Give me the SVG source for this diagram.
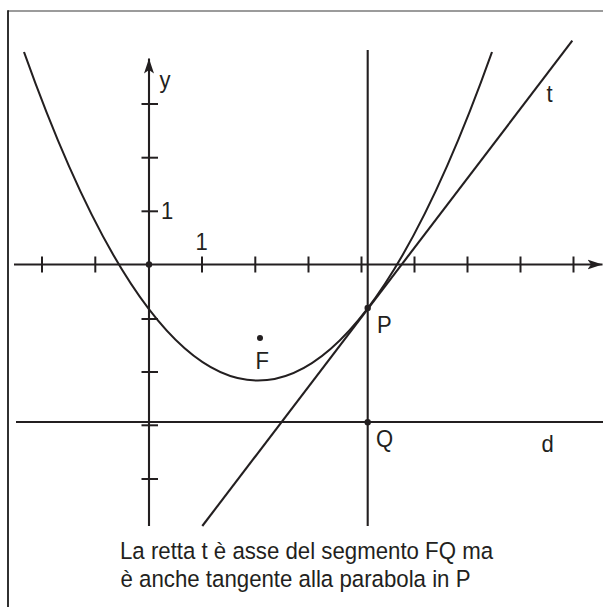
<svg xmlns="http://www.w3.org/2000/svg" width="603" height="607" viewBox="0 0 603 607">
<style>
.ln{stroke:#231f20;stroke-width:2.1;fill:none;stroke-linecap:butt}
.tk{stroke:#231f20;stroke-width:2}
.tx{font-family:"Liberation Sans",Arial,sans-serif;font-size:24.5px;fill:#231f20}
.big{font-family:"Liberation Sans",Arial,sans-serif;font-size:24.5px;fill:#231f20}
.dot{fill:#231f20}
</style>
<defs>
<marker id="arr" markerWidth="16" markerHeight="12" refX="15" refY="5.5" orient="auto" markerUnits="userSpaceOnUse">
<path d="M15,5.5 L0,0.5 L3.5,5.5 L0,10.5 Z" fill="#231f20"/>
</marker>
</defs>
<rect width="603" height="607" fill="#fff"/>
<g id="frame">
<line x1="8" y1="11" x2="603" y2="11" stroke="#7a7a7a" stroke-width="1.6"/>
<line x1="8" y1="10.2" x2="8" y2="607" stroke="#1a1a1a" stroke-width="1.8"/>
</g>
<g id="connectors">
<line id="x-axis" class="ln" x1="14" y1="264.5" x2="602.5" y2="264.5" marker-end="url(#arr)"/>
<line id="y-axis" class="ln" x1="149" y1="526" x2="149" y2="58.5" marker-end="url(#arr)"/>
<g id="x-ticks" class="tk">
<line x1="42" y1="256.5" x2="42" y2="272.5"/>
<line x1="95.3" y1="256.5" x2="95.3" y2="272.5"/>
<line x1="202" y1="256.5" x2="202" y2="272.5"/>
<line x1="255.3" y1="256.5" x2="255.3" y2="272.5"/>
<line x1="308.5" y1="256.5" x2="308.5" y2="272.5"/>
<line x1="361.5" y1="256.5" x2="361.5" y2="272.5"/>
<line x1="414.5" y1="256.5" x2="414.5" y2="272.5"/>
<line x1="467.5" y1="256.5" x2="467.5" y2="272.5"/>
<line x1="520.5" y1="256.5" x2="520.5" y2="272.5"/>
<line x1="573.5" y1="256.5" x2="573.5" y2="272.5"/>
</g>
<g id="y-ticks" class="tk">
<line x1="141.5" y1="104" x2="158" y2="104"/>
<line x1="141.5" y1="157.7" x2="158" y2="157.7"/>
<line x1="141.5" y1="211.3" x2="158" y2="211.3"/>
<line x1="141.5" y1="319" x2="158" y2="319"/>
<line x1="141.5" y1="372" x2="158" y2="372"/>
<line x1="141.5" y1="425.3" x2="158" y2="425.3"/>
<line x1="141.5" y1="479" x2="158" y2="479"/>
</g>
<line id="directrix" class="ln" x1="16" y1="422" x2="603" y2="422"/>
<line id="vertical" class="ln" x1="367.7" y1="50" x2="367.7" y2="526"/>
<line id="tangent" class="ln" x1="202.3" y1="526" x2="572.3" y2="40.7"/>
<path id="parabola" class="ln" d="M24,52 Q258,709.1 492,52"/>
</g>
<g id="origin"><circle class="dot" cx="149" cy="264.5" r="3.2"/></g>
<g id="point-P"><circle class="dot" cx="367.7" cy="308" r="3.2"/><text class="tx" transform="translate(377,332.7) scale(0.9,1)">P</text></g>
<g id="point-Q"><circle class="dot" cx="367.7" cy="422.3" r="3.2"/><text class="tx" transform="translate(376,447) scale(0.9,1)">Q</text></g>
<g id="point-F"><circle class="dot" cx="260" cy="338" r="3"/><text class="tx" transform="translate(255.5,369) scale(0.9,1)">F</text></g>
<g id="labels">
<text class="tx" transform="translate(159.5,87.5) scale(0.9,1)">y</text>
<text class="tx" transform="translate(161,218.5) scale(0.9,1)">1</text>
<text class="tx" transform="translate(195.5,249.5) scale(0.9,1)">1</text>
<text class="tx" transform="translate(546.5,102) scale(0.9,1)">t</text>
<text class="tx" transform="translate(541.5,452) scale(0.9,1)">d</text>
</g>
<g id="caption">
<text class="big" x="120" y="559.3" textLength="373" lengthAdjust="spacingAndGlyphs">La retta t è asse del segmento FQ ma</text>
<text class="big" x="120.5" y="587.3" textLength="350" lengthAdjust="spacingAndGlyphs">è anche tangente alla parabola in P</text>
</g>
</svg>
